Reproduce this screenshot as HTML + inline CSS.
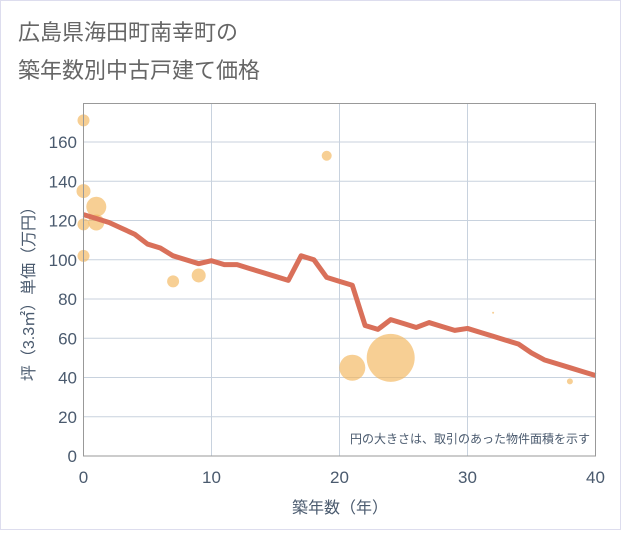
<!DOCTYPE html>
<html><head><meta charset="utf-8"><style>
body{margin:0;background:#fff;}
svg text{font-family:"Liberation Sans","Noto Sans CJK JP",sans-serif;}
</style></head><body>
<svg width="621" height="530">
<rect x="0.5" y="0.5" width="620" height="529" fill="#fff" stroke="#dde"/>
<text x="18" y="40" font-size="22" fill="#666">広島県海田町南幸町の</text>
<text x="18" y="78" font-size="22" fill="#666">築年数別中古戸建て価格</text>
<g id="grid"></g>
<g id="marks"></g>
<rect x="83.5" y="103.5" width="512" height="352.5" fill="none" stroke="#999"/>
<text x="590" y="443" font-size="12" fill="#4a5a6e" text-anchor="end">円の大きさは、取引のあった物件面積を示す</text>
<text x="340" y="513" font-size="16" fill="#4a5a6e" text-anchor="middle">築年数（年）</text>
<text transform="translate(34,290) rotate(-90)" font-size="16" fill="#4a5a6e" text-anchor="middle">坪（3.3㎡）単価（万円）</text>
</svg>
<script>
const xTicks=[0,10,20,30,40];
const yTicks=[0,20,40,60,80,100,120,140,160];
const lineYears=[0,1,2,3,4,5,6,7,8,9,10,11,12,13,14,15,16,17,18,19,20,21,22,23,24,25,26,27,28,29,30,31,32,33,34,35,36,37,38,39,40];
const lineValues=[123,121,119,116,113,108,106,102,100,98,99.5,97.5,97.5,95.5,93.5,91.5,89.5,102,100,91,89,87,66.5,64.5,69.5,67.5,65.5,68,66,64,65,63,61,59,57,52.5,49,47,45,43,41];
const bubbleYears=[0,0,1,1,0,0,7,9,19,21,24,32,38];
const bubbleValues=[171,135,127,119,118,102,89,92,153,45,50,73,38];
const bubbleSizes=[6,7,10,8,6,6,6,7,5,13,24,1,3];
const NS="http://www.w3.org/2000/svg";
const X=v=>83.5+v*12.8, Y=v=>456-v*1.9625;
const grid=document.getElementById('grid'), marks=document.getElementById('marks');
function mk(tag,attrs,parent){const e=document.createElementNS(NS,tag);for(const k in attrs)e.setAttribute(k,attrs[k]);parent.appendChild(e);return e;}
xTicks.forEach(t=>{
 const l=mk('line',{x1:X(t),x2:X(t),y1:103,y2:456,stroke:'#c8d2de'},grid);
 
 
 const tx=mk('text',{x:X(t),y:483,'font-size':17,fill:'#4a5a6e','text-anchor':'middle'},grid);tx.textContent=t;
 
 
});
yTicks.forEach(t=>{
 const l=mk('line',{x1:83,x2:596,y1:Y(t),y2:Y(t),stroke:'#c8d2de'},grid);
 
 
 const tx=mk('text',{x:77,y:Y(t)+6,'font-size':17,fill:'#4a5a6e','text-anchor':'end'},grid);tx.textContent=t;
 
 
});
bubbleYears.forEach((yr,i)=>{
 const c=mk('circle',{cx:X(yr),cy:Y(bubbleValues[i]),r:bubbleSizes[i],fill:'#f2b65a','fill-opacity':0.65},marks);
 
 
});
const p=mk('polyline',{points:lineYears.map((yr,i)=>X(yr)+','+Y(lineValues[i])).join(' '),fill:'none',stroke:'#d9705a','stroke-width':5,'stroke-linejoin':'round'},marks);


</script>
</body></html>
